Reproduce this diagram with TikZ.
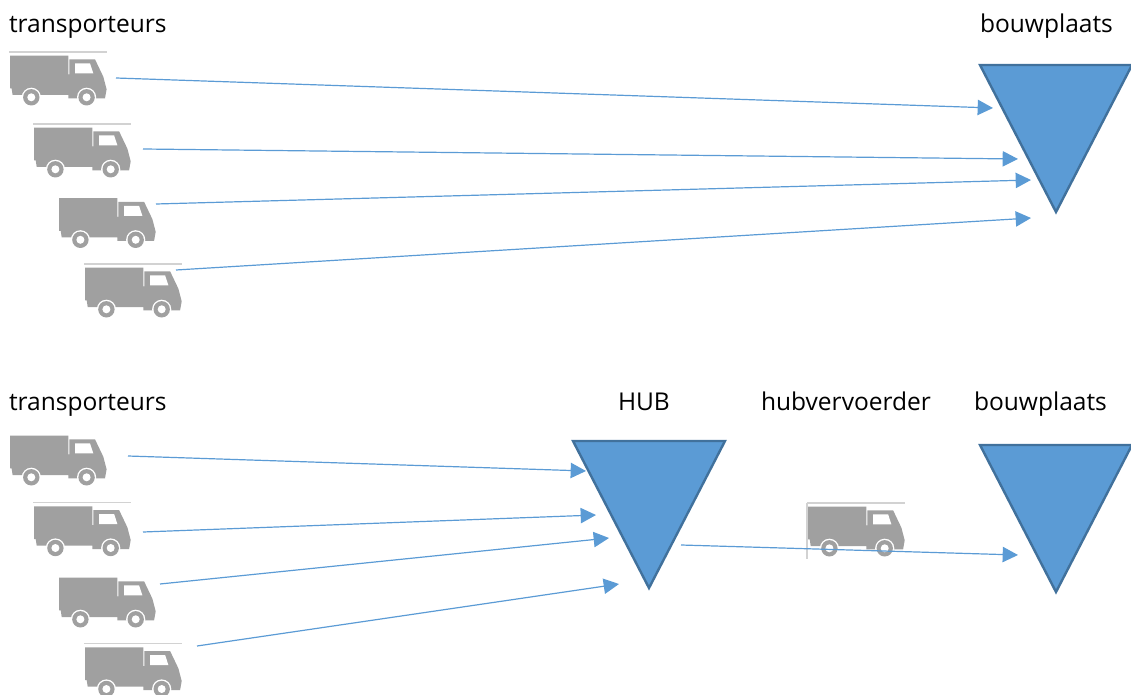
\documentclass[tikz,border=0pt]{standalone}
\usepackage{fontspec}
\setmainfont{Open Sans}
\usetikzlibrary{arrows.meta}
\definecolor{hubblue}{HTML}{5B9BD5}
\definecolor{hubedge}{HTML}{41719C}
\definecolor{truckgrey}{HTML}{A0A0A0}
\tikzset{
	x=0.75pt, y=-0.75pt,
	flow/.style={draw=hubblue, line width=0.9pt, -{Triangle[length=11.5pt,width=11.5pt]}},
	site/.style={draw=hubedge, fill=hubblue, line width=1.8pt, miter limit=20},
	caption/.style={anchor=base west, inner sep=0pt, outer sep=0pt, font=\fontsize{18.4}{22}\selectfont},
	truckrule/.style={draw=gray!35, line width=0.9pt},
	pics/truck/.style={code={
		\fill [truckgrey] (0.7,3.7) -- (59,3.7) -- (59,22.3) -- (60,22.3) -- (60,7.3) -- (85.7,7.3) -- (94,24.7)
			-- (97.3,37.3) -- (95.7,46.3) -- (59,46.3) -- (59,43) -- (3.3,43) -- (2.3,36.3) -- (0.7,36.3) -- cycle;
		\fill [white] (65.7,11.3) -- (80.7,11.3) -- (84,21.3) -- (65.7,21.3) -- cycle;
		\foreach \wheelx in {22,77.3} {
			\fill [white] (\wheelx,45.3) circle [radius=9.6];
			\fill [truckgrey] (\wheelx,45.3) circle [radius=8.2];
			\fill [white] (\wheelx,45.3) circle [radius=4];
		}
	}},
	pics/ruledtruck/.style={code={
		\draw [truckrule] (0,0) -- (98,0);
		\pic {truck};
	}}
}
\begin{document}
\begin{tikzpicture}
\useasboundingbox (0,0) rectangle (1131,695);
% top row
\node [caption] (transTop) at (9,32.7) {transporteurs};
\node [caption] (siteTopLabel) at (980,32.7) {bouwplaats};
\pic at (9.3,52) {ruledtruck};
\pic at (33.4,124) {ruledtruck};
\pic at (58.4,194.5) {truck};
\pic at (84.4,264) {ruledtruck};
\draw [site] (980,65) -- (1132,65) -- (1056,212) -- cycle;
\coordinate (a1) at (116,78);   \coordinate (b1) at (993,108);
\coordinate (a2) at (143,149);  \coordinate (b2) at (1018,159);
\coordinate (a3) at (156,204);  \coordinate (b3) at (1031,180);
\coordinate (a4) at (176,270);  \coordinate (b4) at (1031,218);
\foreach \i in {1,...,4} \draw [flow] (a\i) -- (b\i);
% bottom row
\node [caption] (transBot) at (9,410.7) {transporteurs};
\node [caption] (hubLabel) at (618,410.7) {HUB};
\node [caption] (carrierLabel) at (761,410.7) {hubvervoerder};
\node [caption] (siteBotLabel) at (974,410.7) {bouwplaats};
\pic at (9.3,432) {truck};
\pic at (33.4,502.7) {ruledtruck};
\pic at (58.4,574) {truck};
\pic at (84.4,643.7) {ruledtruck};
\pic at (807.4,503) {ruledtruck};
\draw [truckrule] (807,503) -- (807,559);
\draw [site] (573,441) -- (725,441) -- (649,588) -- cycle;
\draw [site] (980,445) -- (1132,445) -- (1056,592) -- cycle;
\coordinate (c1) at (128,456);  \coordinate (d1) at (586,471);
\coordinate (c2) at (143,532);  \coordinate (d2) at (596,515);
\coordinate (c3) at (160,584);  \coordinate (d3) at (609,538);
\coordinate (c4) at (197,646);  \coordinate (d4) at (619,584);
\coordinate (c5) at (681,545);  \coordinate (d5) at (1018,555);
\foreach \i in {1,...,5} \draw [flow] (c\i) -- (d\i);
\end{tikzpicture}
\end{document}
